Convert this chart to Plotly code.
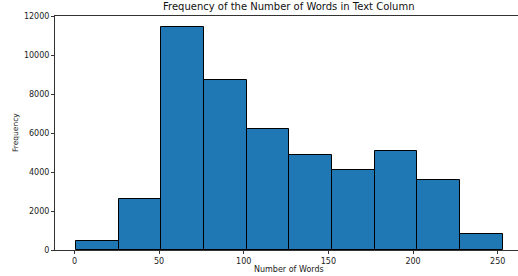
import plotly.graph_objects as go

bin_edges = [1, 26.2, 51.4, 76.6, 101.8, 127.0, 152.2, 177.4, 202.6, 227.8, 253.0]
counts = [479, 2606, 11447, 8754, 6246, 4892, 4135, 5077, 3604, 824]
x_ticks = [0, 50, 100, 150, 200, 250]
y_ticks = [0, 2000, 4000, 6000, 8000, 10000, 12000]

centers = [(a + b) / 2 for a, b in zip(bin_edges[:-1], bin_edges[1:])]
widths = [b - a for a, b in zip(bin_edges[:-1], bin_edges[1:])]

font = "DejaVu Sans"
fig = go.Figure(go.Bar(
    x=centers, y=counts, width=widths,
    marker=dict(color="#1f77b4", line=dict(color="black", width=1)),
))

W, H = 518, 276
L, R, T, B = 55, 0, 16, 26
fig.update_layout(
    width=W, height=H,
    margin=dict(l=L, r=R, t=T, b=B, pad=0),
    plot_bgcolor="white", paper_bgcolor="white",
    showlegend=False,
    bargap=0,
    font=dict(family=font, size=8, color="#222"),
    xaxis=dict(
        range=[-11.5, 262], tickvals=x_ticks, ticktext=[str(v) for v in x_ticks],
        ticks="outside", ticklen=3,
        tickcolor="#333", showline=True, linecolor="#333", linewidth=1,
        mirror=True, showgrid=False, zeroline=False,
        tickfont=dict(family=font, size=8, color="#222"),
    ),
    yaxis=dict(
        range=[0, 12030], tickvals=y_ticks, ticktext=[str(v) for v in y_ticks],
        ticks="outside", ticklen=3,
        tickcolor="#333", showline=True, linecolor="#333", linewidth=1,
        showgrid=False, zeroline=False,
        tickfont=dict(family=font, size=8, color="#222"),
    ),
    annotations=[
        dict(text="Frequency of the Number of Words in Text Column", xref="paper", yref="paper",
             x=(289 - L) / (W - L - R), y=1, yshift=2, xanchor="center", yanchor="bottom",
             showarrow=False, font=dict(family=font, size=10, color="#111")),
        dict(text="Number of Words", xref="paper", yref="paper",
             x=(289 - L) / (W - L - R), y=0, yshift=-13, xanchor="center", yanchor="top",
             showarrow=False, font=dict(family=font, size=8, color="#222")),
        dict(text="Frequency", xref="paper", yref="paper", textangle=-90,
             x=0, xshift=-(L - 15), y=0.5, xanchor="center", yanchor="middle",
             showarrow=False, font=dict(family=font, size=7.5, color="#222")),
    ],
)
fig.write_html("out.html", config={"displayModeBar": False},
               post_script="document.body.style.margin='0';document.body.style.overflow='hidden';")
